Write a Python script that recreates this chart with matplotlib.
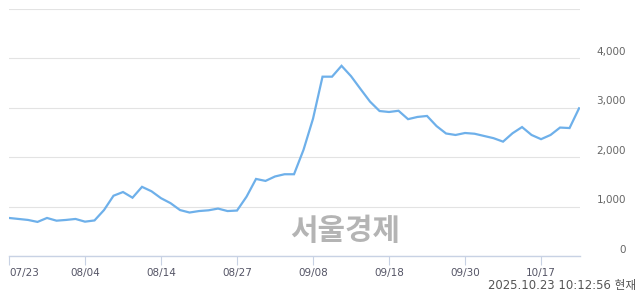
import matplotlib
matplotlib.use("Agg")
import matplotlib.pyplot as plt
import matplotlib.transforms as mtransforms

plt.rcParams['font.family'] = ['DejaVu Sans', 'Noto Sans CJK KR']

# Data (trading days 07/23 .. 10/23)
values = [770, 750, 730, 690, 770, 715, 730, 750, 695, 720,
          930, 1220, 1295, 1180, 1400, 1310, 1170, 1070, 930, 880,
          910, 925, 960, 910, 920, 1200, 1560, 1520, 1610, 1655,
          1655, 2150, 2780, 3630, 3630, 3850, 3640, 3380, 3125, 2935,
          2915, 2940, 2770, 2815, 2835, 2630, 2480, 2450, 2490, 2475,
          2430, 2385, 2315, 2485, 2610, 2450, 2365, 2450, 2600, 2590,
          2990]
xtick_pos = [0, 8, 16, 24, 32, 40, 48, 56]
xtick_labels = ['07/23', '08/04', '08/14', '08/27', '09/08', '09/18', '09/30', '10/17']
ytick_vals = [0, 1000, 2000, 3000, 4000, 5000]
ytick_labels = ['0', '1,000', '2,000', '3,000', '4,000', '']
timestamp = '2025.10.23 10:12:56 현재'
watermark = '서울경제'

W, H = 640, 294
fig = plt.figure(figsize=(W / 100, H / 100), dpi=100)
ax = fig.add_axes([9 / W, (H - 256) / H, (580 - 9) / W, (256 - 9) / H])

x = list(range(len(values)))
ax.plot(x, values, color='#6eb0ea', linewidth=1.6, solid_joinstyle='miter', zorder=3)

ax.set_xlim(0, 60.1)
ax.set_ylim(0, 5000)

for s in ['top', 'left', 'right']:
    ax.spines[s].set_visible(False)
ax.spines['bottom'].set_color('#c8d2e4')
ax.spines['bottom'].set_linewidth(1.0)

ax.set_xticks(xtick_pos)
ax.set_xticklabels(xtick_labels)
ax.tick_params(axis='x', direction='out', length=6.5, width=0.8, color='#c8d2e4',
               pad=2, labelsize=7.5, labelcolor='#555566')
ax.get_xticklabels()[0].set_horizontalalignment('left')

ax.yaxis.tick_right()
ax.set_yticks(ytick_vals)
ax.set_yticklabels(ytick_labels)
ax.tick_params(axis='y', length=0, pad=33, labelsize=7.5, labelcolor='#666666')
off = mtransforms.ScaledTranslation(0, 2.5 / 72, fig.dpi_scale_trans)
for lbl in ax.get_yticklabels():
    lbl.set_horizontalalignment('right')
    lbl.set_verticalalignment('baseline')
    lbl.set_transform(lbl.get_transform() + off)

ax.grid(axis='y', color='#e3e3e3', linewidth=0.8, zorder=0)
ax.grid(axis='x', visible=False)

fig.text(345 / W, 1 - 231 / H, watermark, fontsize=21.5, fontweight='bold',
         color='#b4b4b4', ha='center', va='center',
         family=['Noto Sans CJK KR'], zorder=1)

fig.text(636 / W, 1 - 285 / H, timestamp, fontsize=8.4, color='#555555',
         ha='right', va='center', family=['DejaVu Sans', 'Noto Sans CJK KR'])

fig.savefig('out.png', dpi=100)
